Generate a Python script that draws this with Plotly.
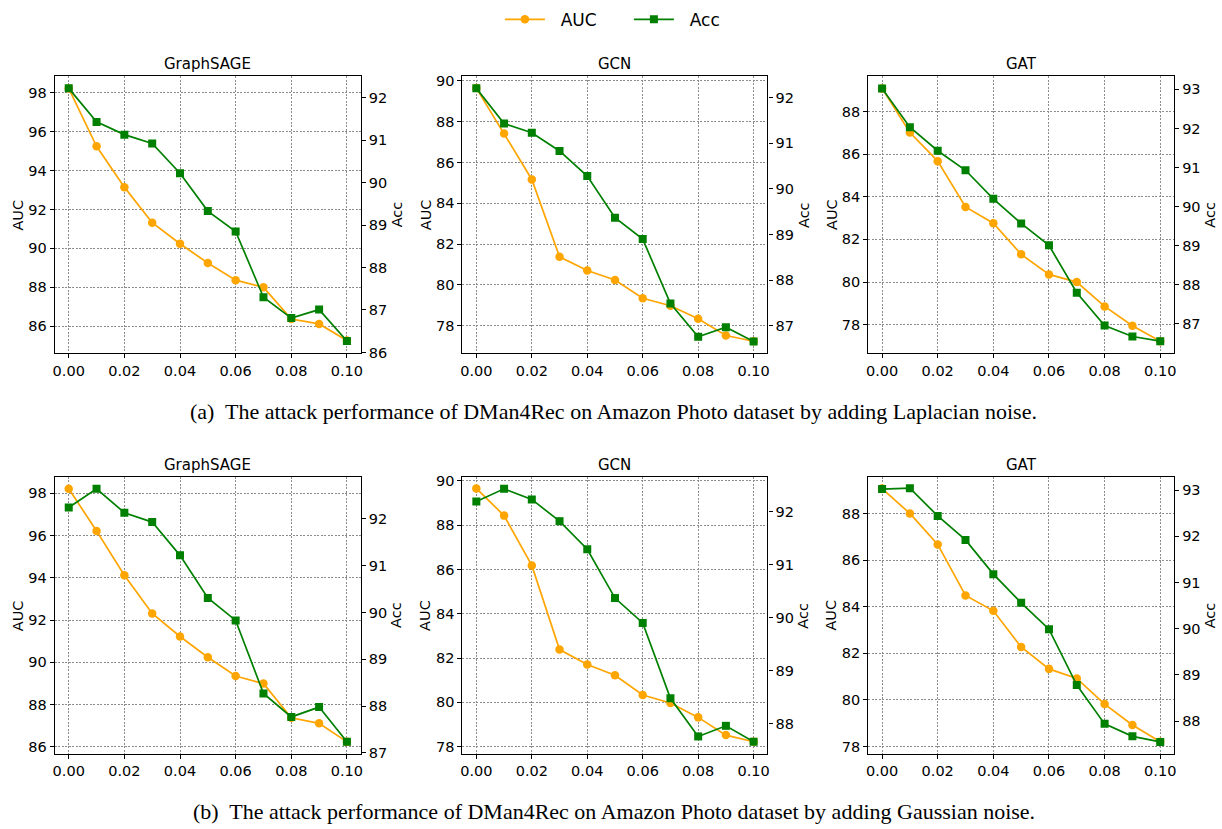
import plotly.graph_objects as go

W, H = 1222, 829

# ---------------- data ----------------
noise_levels = [0.00, 0.01, 0.02, 0.03, 0.04, 0.05, 0.06, 0.07, 0.08, 0.09, 0.10]
x_tick_vals = [0.00, 0.02, 0.04, 0.06, 0.08, 0.10]
models = ["GraphSAGE", "GCN", "GAT"]
series_names = ["AUC", "Acc"]
captions = [
    "(a)\u00a0 The attack performance of DMan4Rec on Amazon Photo dataset by adding Laplacian noise.",
    "(b)\u00a0 The attack performance of DMan4Rec on Amazon Photo dataset by adding Gaussian noise.",
]

# Laplacian noise
lap_auc_graphsage = [98.22, 95.25, 93.15, 91.32, 90.24, 89.25, 88.37, 88.00, 86.37, 86.12, 85.27]
lap_acc_graphsage = [92.22, 91.43, 91.13, 90.92, 90.22, 89.33, 88.85, 87.30, 86.81, 87.01, 86.27]
lap_auc_gcn = [89.65, 87.42, 85.17, 81.38, 80.71, 80.24, 79.35, 78.98, 78.34, 77.52, 77.24]
lap_acc_gcn = [92.20, 91.43, 91.23, 90.83, 90.28, 89.37, 88.90, 87.49, 86.76, 86.97, 86.66]
lap_auc_gat = [89.08, 87.01, 85.67, 83.52, 82.76, 81.30, 80.36, 80.00, 78.86, 77.95, 77.23]
lap_acc_gat = [93.02, 92.03, 91.43, 90.93, 90.20, 89.57, 89.01, 87.80, 86.96, 86.68, 86.56]

# Gaussian noise
gau_auc_graphsage = [98.22, 96.22, 94.12, 92.31, 91.22, 90.24, 89.35, 88.99, 87.37, 87.11, 86.23]
gau_acc_graphsage = [92.24, 92.64, 92.13, 91.93, 91.22, 90.31, 89.83, 88.27, 87.77, 87.98, 87.24]
gau_auc_gcn = [89.66, 88.43, 86.18, 82.38, 81.71, 81.22, 80.33, 79.97, 79.32, 78.52, 78.22]
gau_acc_gcn = [92.19, 92.43, 92.23, 91.82, 91.29, 90.37, 89.90, 88.48, 87.76, 87.96, 87.66]
gau_auc_gat = [89.07, 88.00, 86.67, 84.48, 83.82, 82.27, 81.33, 80.92, 79.82, 78.92, 78.20]
gau_acc_gat = [93.02, 93.04, 92.44, 91.92, 91.18, 90.56, 89.99, 88.78, 87.94, 87.67, 87.55]

# ---------------- layout constants ----------------
COL_PX = [(53, 360), (462, 768), (869, 1176)]
ROW_PX = [(73, 354), (479, 760)]
X_RANGE = [-0.005, 0.105]
AUC_RANGES = [
    [[84.61, 98.86], [76.65, 90.24], [76.66, 89.66]],
    [[85.66, 98.79], [77.67, 90.19], [77.68, 89.58]],
]
ACC_RANGES = [
    [[85.98, 92.51], [86.40, 92.47], [86.25, 93.34]],
    [[86.98, 92.90], [87.43, 92.66], [87.29, 93.29]],
]

ORANGE = "#FFA500"
GREEN = "#008000"
SANS = "DejaVu Sans"
SERIF = "Liberation Serif, Times New Roman, serif"
TICK_FONT = dict(family=SANS, size=14.5, color="black")
GRID = "#8c8c8c"
GRID_DASH = "2px,1.5px"
LEGEND_PAD = "\u00a0\u00a0"

data_grid = [
    [(lap_auc_graphsage, lap_acc_graphsage), (lap_auc_gcn, lap_acc_gcn), (lap_auc_gat, lap_acc_gat)],
    [(gau_auc_graphsage, gau_acc_graphsage), (gau_auc_gcn, gau_acc_gcn), (gau_auc_gat, gau_acc_gat)],
]


def px_x(p):
    return p / W


def px_y(p):
    return 1 - p / H


def key(prefix, n):
    return prefix if n == 1 else f"{prefix}{n}"


fig = go.Figure()
layout = {}
annotations = []

for r in range(2):
    for c in range(3):
        k = r * 3 + c + 1
        kr = k + 6
        auc, acc = data_grid[r][c]
        x0, x1 = COL_PX[c]
        y0, y1 = ROW_PX[r]
        xd = [px_x(x0), px_x(x1)]
        yd = [px_y(y1), px_y(y0)]

        layout[key("xaxis", k)] = dict(
            domain=xd, anchor=f"y{k}", range=X_RANGE,
            tickvals=x_tick_vals, ticktext=[f"{v:.2f}" for v in x_tick_vals],
            showline=True, linecolor="black", linewidth=1.2, mirror=True,
            ticks="outside", ticklen=4, tickwidth=1, tickcolor="black",
            tickfont=TICK_FONT, showgrid=True, gridcolor=GRID, gridwidth=1,
            griddash=GRID_DASH, zeroline=False,
        )
        layout[key("yaxis", k)] = dict(
            domain=yd, anchor=f"x{k}", range=AUC_RANGES[r][c], dtick=2, tick0=0,
            showline=True, linecolor="black", linewidth=1.2,
            ticks="outside", ticklen=4, tickwidth=1, tickcolor="black",
            tickfont=TICK_FONT, showgrid=True, gridcolor=GRID, gridwidth=1,
            griddash=GRID_DASH, zeroline=False,
        )
        layout[key("yaxis", kr)] = dict(
            overlaying=f"y{k}", side="right", anchor=f"x{k}", range=ACC_RANGES[r][c],
            dtick=1, tick0=0,
            showline=True, linecolor="black", linewidth=1.2,
            ticks="outside", ticklen=4, tickwidth=1, tickcolor="black",
            tickfont=TICK_FONT, showgrid=False, zeroline=False,
        )

        fig.add_trace(go.Scatter(
            x=noise_levels, y=auc, mode="lines+markers", name=LEGEND_PAD + series_names[0],
            line=dict(color=ORANGE, width=1.7),
            marker=dict(symbol="circle", size=8.5, color=ORANGE),
            xaxis=f"x{k}", yaxis=f"y{k}", showlegend=(k == 1), legendrank=1,
        ))
        fig.add_trace(go.Scatter(
            x=noise_levels, y=acc, mode="lines+markers", name=LEGEND_PAD + series_names[1],
            line=dict(color=GREEN, width=1.7),
            marker=dict(symbol="square", size=8, color=GREEN),
            xaxis=f"x{k}", yaxis=f"y{kr}", showlegend=(k == 1), legendrank=2,
        ))

        cx = (x0 + x1) / 2
        cy = (y0 + y1) / 2
        annotations.append(dict(
            text=models[c], x=px_x(cx), y=px_y(y0 - 12), xref="paper", yref="paper",
            xanchor="center", yanchor="middle", showarrow=False,
            font=dict(family=SANS, size=15, color="black"),
        ))
        annotations.append(dict(
            text=series_names[0], x=px_x(x0 - 37), y=px_y(cy), xref="paper", yref="paper",
            xanchor="center", yanchor="middle", showarrow=False, textangle=-90,
            font=dict(family=SANS, size=14.5, color="black"),
        ))
        annotations.append(dict(
            text=series_names[1], x=px_x(x1 + 36), y=px_y(cy), xref="paper", yref="paper",
            xanchor="center", yanchor="middle", showarrow=False, textangle=-90,
            font=dict(family=SANS, size=14.5, color="black"),
        ))

for i, cap_y in enumerate([413, 818]):
    annotations.append(dict(
        text=captions[i], x=px_x(614), y=px_y(cap_y), xref="paper", yref="paper",
        xanchor="center", yanchor="middle", showarrow=False,
        font=dict(family=SERIF, size=22, color="black"),
    ))

fig.update_layout(
    width=W, height=H,
    margin=dict(l=0, r=0, t=0, b=0),
    paper_bgcolor="white", plot_bgcolor="white",
    annotations=annotations,
    legend=dict(
        orientation="h", x=0.5147, xanchor="center", y=px_y(16), yanchor="middle",
        font=dict(family=SANS, size=17, color="black"),
        bgcolor="rgba(0,0,0,0)", itemwidth=40, entrywidth=74,
    ),
    **layout,
)

fig.write_html(
    "out.html",
    config={"displayModeBar": False},
    post_script="document.body.style.margin='0';document.body.style.overflow='hidden';",
)
